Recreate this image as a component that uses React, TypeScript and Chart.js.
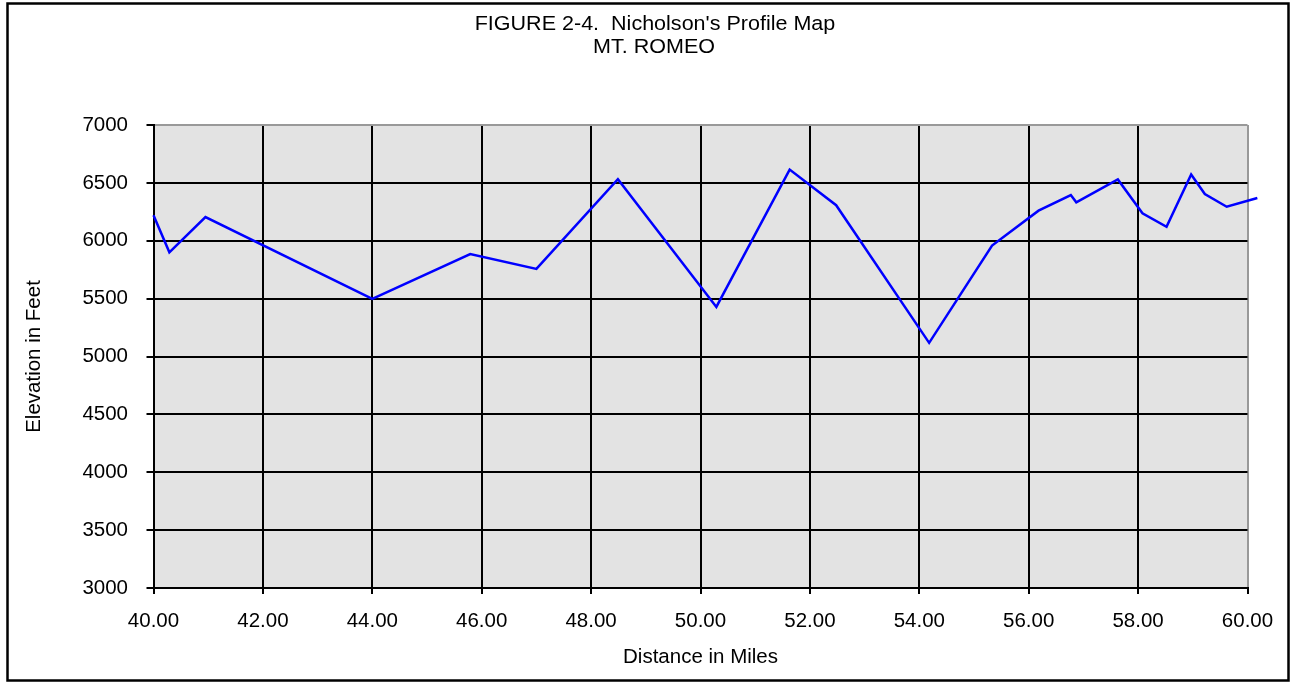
import React, { useEffect, useRef } from "react";
import { Chart, registerables } from "chart.js";

Chart.register(...registerables);

// Distance along the profile (miles)
const distances: number[] = [
  40.0, 40.29, 40.95, 44.0, 45.79, 47.0, 48.49, 50.29, 51.63, 52.48, 54.18,
  55.33, 56.18, 56.77, 56.87, 57.63, 58.08, 58.52, 58.97, 59.22, 59.62, 60.18,
];
// Elevation (feet)
const elevations: number[] = [
  6220, 5900, 6205, 5497, 5885, 5757, 6532, 5428, 6615, 6307, 5118, 5958,
  6260, 6395, 6332, 6530, 6237, 6121, 6573, 6404, 6294, 6369,
];
const xTicks: number[] = [40, 42, 44, 46, 48, 50, 52, 54, 56, 58, 60];
const yTicks: number[] = [3000, 3500, 4000, 4500, 5000, 5500, 6000, 6500, 7000];
const titleLines: string[] = ["FIGURE 2-4.  Nicholson's Profile Map", "MT. ROMEO"];
const xTitle = "Distance in Miles";
const yTitle = "Elevation in Feet";

const FONT = "'Liberation Sans', Arial, Helvetica, sans-serif";
const FS = 20.5;

export default function App() {
  const ref = useRef<HTMLCanvasElement | null>(null);

  useEffect(() => {
    if (!ref.current) return;
    document.body.style.margin = "0";

    const framePlugin = {
      id: "framePlugin",
      beforeDraw(chart: any) {
        const { ctx, chartArea } = chart;
        ctx.save();
        ctx.fillStyle = "#ffffff";
        ctx.fillRect(0, 0, chart.width, chart.height);
        ctx.fillStyle = "#e3e3e3";
        ctx.fillRect(
          chartArea.left,
          chartArea.top,
          chartArea.right - chartArea.left,
          chartArea.bottom - chartArea.top
        );
        ctx.restore();
      },
      afterDraw(chart: any) {
        const { ctx } = chart;
        ctx.save();
        ctx.strokeStyle = "#000";
        ctx.lineWidth = 2.5;
        ctx.strokeRect(7.5, 3.5, 1281, 677);
        ctx.fillStyle = "#000";
        ctx.font = `${FS}px ${FONT}`;
        ctx.textAlign = "center";
        ctx.textBaseline = "alphabetic";
        ctx.save();
        ctx.translate(655, 30);
        ctx.scale(1.05, 1);
        ctx.fillText(titleLines[0], 0, 0);
        ctx.restore();
        ctx.save();
        ctx.translate(654, 53);
        ctx.scale(1.05, 1);
        ctx.fillText(titleLines[1], 0, 0);
        ctx.restore();
        ctx.restore();
      },
    };

    const chart = new Chart(ref.current, {
      type: "line",
      data: {
        datasets: [
          {
            data: distances.map((d, i) => ({ x: d, y: elevations[i] })),
            borderColor: "#0000ff",
            borderWidth: 2.5,
            pointRadius: 0,
            tension: 0,
            fill: false,
            clip: false as any,
          },
        ],
      },
      options: {
        responsive: false,
        animation: false,
        devicePixelRatio: 1,
        layout: { padding: { left: 0, top: 125, right: 43.5, bottom: 0 } },
        plugins: {
          legend: { display: false },
          tooltip: { enabled: false },
          title: { display: false },
        },
        scales: {
          x: {
            type: "linear",
            min: 40,
            max: 60,
            afterBuildTicks: (scale: any) => {
              scale.ticks = xTicks.map((v) => ({ value: v }));
            },
            afterFit: (scale: any) => {
              scale.height = 95;
            },
            grid: {
              color: (c: any) => (c.tick && c.tick.value === 60 ? "#999999" : "#000000"),
              lineWidth: 2,
              tickLength: 6,
              tickColor: "#000000",
              tickWidth: 2,
            },
            border: { display: true, color: "#000000", width: 2 },
            ticks: {
              color: "#000",
              padding: 15,
              maxRotation: 0,
              autoSkip: false,
              font: { family: FONT, size: FS },
              callback: (v: any) => Number(v).toFixed(2),
            },
            title: {
              display: true,
              text: xTitle,
              color: "#000",
              font: { family: FONT, size: FS },
              padding: { top: 0, bottom: 13.5 },
            },
          },
          y: {
            type: "linear",
            min: 3000,
            max: 7000,
            afterBuildTicks: (scale: any) => {
              scale.ticks = yTicks.map((v) => ({ value: v }));
            },
            afterFit: (scale: any) => {
              scale.width = 153.5;
            },
            grid: {
              color: (c: any) => (c.tick && c.tick.value === 7000 ? "#999999" : "#000000"),
              lineWidth: 2,
              tickLength: 7,
              tickColor: "#000000",
              tickWidth: 2,
            },
            border: { display: true, color: "#000000", width: 2 },
            ticks: {
              color: "#000",
              padding: 18.5,
              autoSkip: false,
              font: { family: FONT, size: FS },
              callback: (v: any) => String(v),
            },
            title: {
              display: true,
              text: yTitle,
              color: "#000",
              font: { family: FONT, size: FS },
              padding: { top: 22.5, bottom: 0 },
            },
          },
        },
      },
      plugins: [framePlugin],
    });

    return () => {
      chart.destroy();
    };
  }, []);

  return (
    <div style={{ position: "fixed", left: 0, top: 0, width: 1291, height: 683 }}>
      <canvas ref={ref} width={1291} height={683} style={{ display: "block" }} />
    </div>
  );
}
